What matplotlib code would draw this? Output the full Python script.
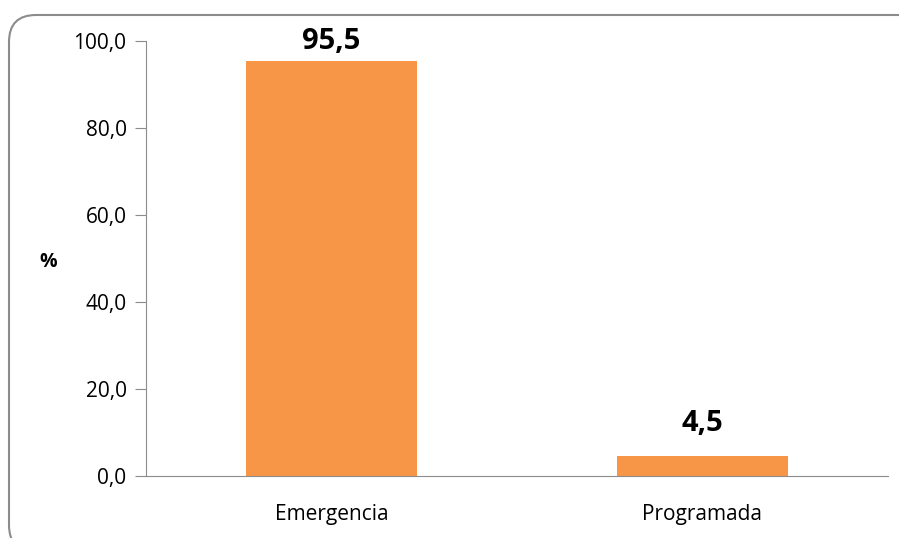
import matplotlib.pyplot as plt
from matplotlib.patches import FancyBboxPatch

categories = ["Emergencia", "Programada"]
values = [95.5, 4.5]
value_labels = ["95,5", "4,5"]
yticks = [0, 20, 40, 60, 80, 100]
ytick_labels = ["0,0", "20,0", "40,0", "60,0", "80,0", "100,0"]

plt.rcParams['font.family'] = ['Open Sans', 'DejaVu Sans']

fig = plt.figure(figsize=(8.99, 5.38), dpi=100)

# rounded chart-area frame (corners just past the right and bottom edges)
frame = FancyBboxPatch((9 / 899, -14 / 538), 918 / 899, 537 / 538,
                       boxstyle="round,pad=0,rounding_size=0.03",
                       transform=fig.transFigure, facecolor="none", edgecolor="#8c8c8c",
                       linewidth=1.5, mutation_aspect=899 / 538)
fig.patches.append(frame)

ax = fig.add_axes([146 / 899, 62 / 538, 742 / 899, 435 / 538])
bars = ax.bar(categories, values, width=0.46, color="#F79646")

for bar, lab in zip(bars, value_labels):
    y = min(bar.get_height() + 4.2, 96.6)
    ax.text(bar.get_x() + bar.get_width() / 2, y, lab,
            ha="center", va="bottom", fontsize=21, fontweight="bold")

ax.set_ylim(0, 100)
ax.set_xlim(-0.5, 1.5)
ax.set_yticks(yticks)
ax.set_yticklabels(ytick_labels, fontsize=15)
ax.tick_params(axis="y", length=8, color="#8c8c8c", pad=6)
ax.tick_params(axis="x", length=0, labelsize=15, pad=20)

for s in ["top", "right"]:
    ax.spines[s].set_visible(False)
for s in ["left", "bottom"]:
    ax.spines[s].set_color("#8c8c8c")

fig.text(48 / 899, 1 - 262 / 538, "%", ha="center", va="center", fontsize=14, fontweight="bold")

fig.savefig("out.png", dpi=100)
